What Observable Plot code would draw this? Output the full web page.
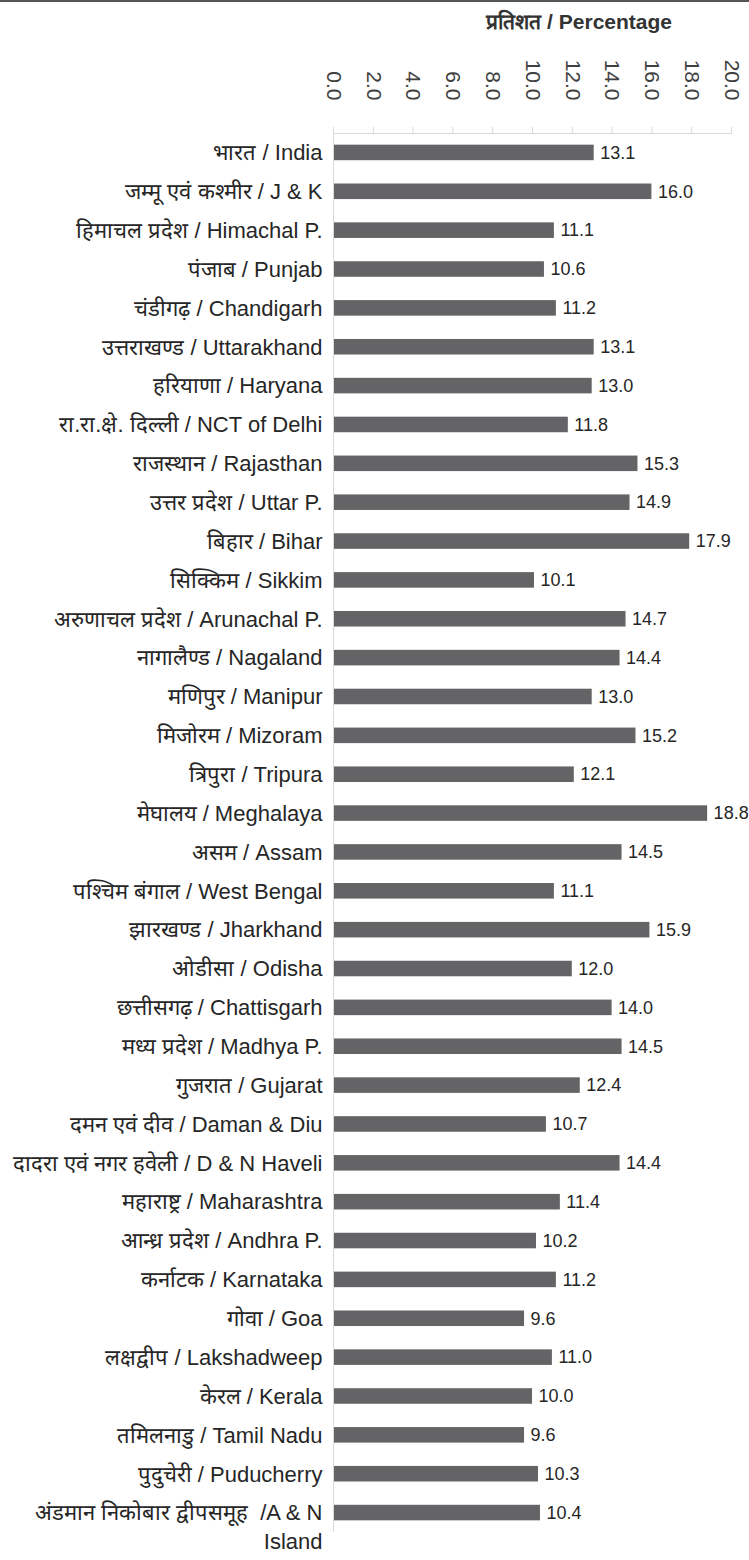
<!DOCTYPE html>
<html>
<head>
<meta charset="utf-8">
<script src="https://cdn.jsdelivr.net/npm/d3@7"></script>
<script src="https://cdn.jsdelivr.net/npm/@observablehq/plot@0.6"></script>
<style>
  html, body { margin: 0; padding: 0; background: #fff; }
  #title {
    width: 749px; box-sizing: border-box;
    border-top: 2px solid #555;
    height: 40px; line-height: 40px;
    text-align: right; padding-right: 77px;
    font-family: "Liberation Sans", Arial, sans-serif;
    font-size: 21px; font-weight: bold; color: #333;
  }
  #chart svg { display: block; }
</style>
</head>
<body>
<div id="title">प्रतिशत / Percentage</div>
<div id="chart"></div>
<script>
const names = [
  "भारत / India",
  "जम्मू एवं कश्मीर / J & K",
  "हिमाचल प्रदेश / Himachal P.",
  "पंजाब / Punjab",
  "चंडीगढ़ / Chandigarh",
  "उत्तराखण्ड / Uttarakhand",
  "हरियाणा / Haryana",
  "रा.रा.क्षे. दिल्ली / NCT of Delhi",
  "राजस्थान / Rajasthan",
  "उत्तर प्रदेश / Uttar P.",
  "बिहार / Bihar",
  "सिक्किम / Sikkim",
  "अरुणाचल प्रदेश / Arunachal P.",
  "नागालैण्ड / Nagaland",
  "मणिपुर / Manipur",
  "मिजोरम / Mizoram",
  "त्रिपुरा / Tripura",
  "मेघालय / Meghalaya",
  "असम / Assam",
  "पश्चिम बंगाल / West Bengal",
  "झारखण्ड / Jharkhand",
  "ओडीसा / Odisha",
  "छत्तीसगढ़ / Chattisgarh",
  "मध्य प्रदेश / Madhya P.",
  "गुजरात / Gujarat",
  "दमन एवं दीव / Daman & Diu",
  "दादरा एवं नगर हवेली / D & N Haveli",
  "महाराष्ट्र / Maharashtra",
  "आन्ध्र प्रदेश / Andhra P.",
  "कर्नाटक / Karnataka",
  "गोवा / Goa",
  "लक्षद्वीप / Lakshadweep",
  "केरल / Kerala",
  "तमिलनाडु / Tamil Nadu",
  "पुदुचेरी / Puducherry",
  "अंडमान निकोबार द्वीपसमूह  /A & N\nIsland"
];
const values = [
  13.1, 16.0, 11.1, 10.6, 11.2, 13.1, 13.0, 11.8, 15.3, 14.9,
  17.9, 10.1, 14.7, 14.4, 13.0, 15.2, 12.1, 18.8, 14.5, 11.1,
  15.9, 12.0, 14.0, 14.5, 12.4, 10.7, 14.4, 11.4, 10.2, 11.2,
  9.6, 11.0, 10.0, 9.6, 10.3, 10.4
];
const xTicks = [0, 2, 4, 6, 8, 10, 12, 14, 16, 18, 20];

const data = names.map((name, i) => ({name, value: values[i]}));
const font = '"Liberation Sans", Arial, sans-serif';

const chart = Plot.plot({
  width: 749,
  height: 1520,
  marginTop: 93,
  marginBottom: 28,
  marginLeft: 333,
  marginRight: 18,
  style: {fontFamily: font, background: "#fff"},
  x: {domain: [0, 20]},
  y: {domain: names, paddingInner: 0.6, paddingOuter: 0.3, axis: null},
  marks: [
    Plot.barX(data, {x: "value", y: "name", fill: "#646466"}),
    Plot.ruleX([0], {stroke: "#d9d9d9"}),
    Plot.frame({anchor: "top", stroke: "#d9d9d9"}),
    Plot.axisX({
      anchor: "top",
      ticks: xTicks,
      tickFormat: d => d.toFixed(1),
      tickRotate: 90,
      tickSize: 7,
      tickPadding: 26,
      stroke: "#d9d9d9",
      fill: "#404040",
      fontSize: 21,
      label: null
    }),
    Plot.text(data, {
      x: 0, y: "name", text: "name",
      textAnchor: "end", lineAnchor: "top", lineHeight: 1.3, dx: -11, dy: -13,
      fontSize: 22, fill: "#262626"
    }),
    Plot.text(data, {
      x: "value", y: "name", text: d => d.value.toFixed(1),
      textAnchor: "start", dx: 6, fontSize: 18, fill: "#262626"
    })
  ]
});
document.getElementById("chart").appendChild(chart);
</script>
</body>
</html>
